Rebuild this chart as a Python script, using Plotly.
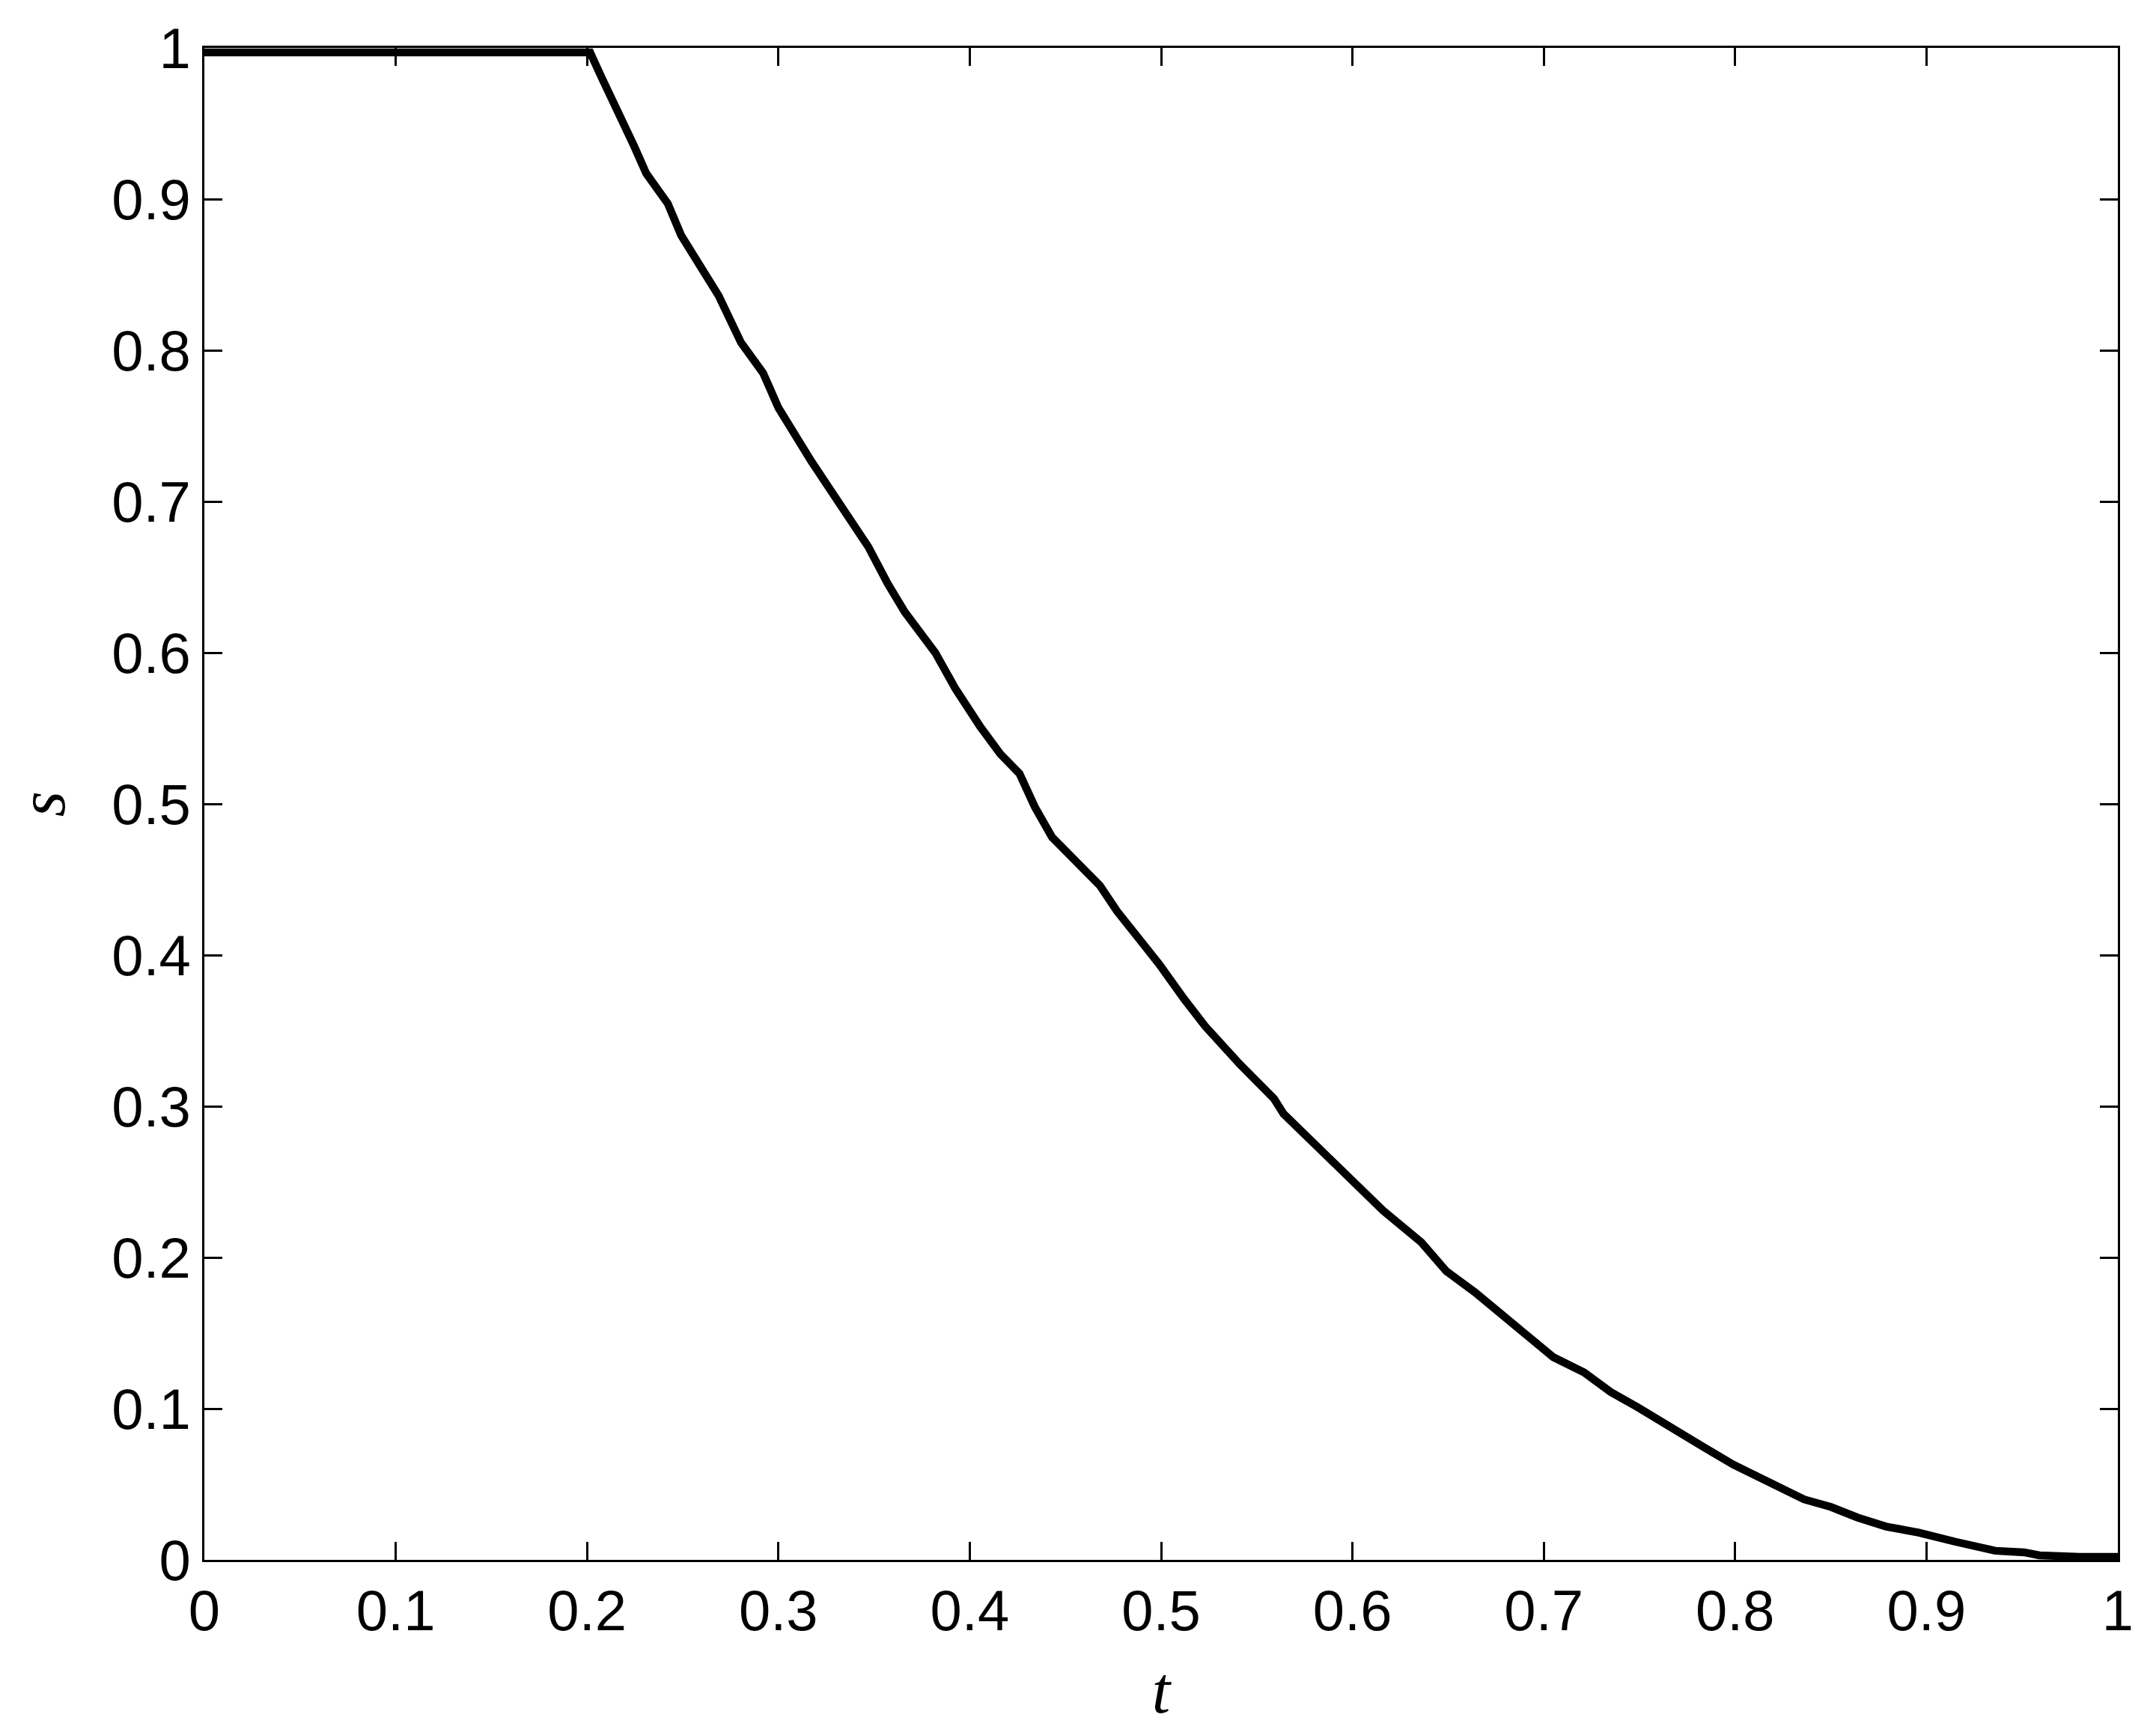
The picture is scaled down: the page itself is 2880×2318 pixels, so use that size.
import plotly.graph_objects as go

# values
t_vals = [0.0, 0.2016, 0.2074, 0.2168, 0.2246, 0.2309, 0.2422, 0.2492, 0.2598, 0.2688,
          0.2805, 0.292, 0.300, 0.308, 0.317, 0.327, 0.338, 0.347, 0.357, 0.366,
          0.382, 0.3926, 0.4055, 0.416, 0.426, 0.434, 0.443, 0.456, 0.468, 0.477,
          0.499, 0.512, 0.523, 0.541, 0.559, 0.564, 0.590, 0.616, 0.636, 0.649,
          0.664, 0.678, 0.688, 0.705, 0.721, 0.735, 0.749, 0.766, 0.783, 0.799,
          0.807, 0.821, 0.836, 0.850, 0.864, 0.879, 0.896, 0.915, 0.936, 0.951,
          0.959, 0.980, 1.0]
s_vals = [0.997, 0.997, 0.981, 0.957, 0.935, 0.917, 0.897, 0.876, 0.853, 0.836,
          0.805, 0.785, 0.762, 0.745, 0.727, 0.708, 0.686, 0.670, 0.646, 0.627,
          0.600, 0.576, 0.551, 0.533, 0.520, 0.498, 0.478, 0.462, 0.446, 0.429,
          0.394, 0.371, 0.353, 0.328, 0.305, 0.295, 0.263, 0.231, 0.210, 0.191,
          0.177, 0.162, 0.152, 0.134, 0.124, 0.111, 0.101, 0.0875, 0.075, 0.063,
          0.058, 0.048, 0.040, 0.035, 0.028, 0.022, 0.018, 0.012, 0.006, 0.005,
          0.003, 0.002, 0.002]

tick_font = dict(family="Liberation Sans, Arial, sans-serif", size=76, color="black")
title_font = dict(family="Liberation Serif, Times New Roman, serif", size=88,
                  color="black", style="italic")

fig = go.Figure()
fig.add_trace(go.Scatter(
    x=t_vals, y=s_vals,
    mode="lines",
    line=dict(color="black", width=10.5),
    showlegend=False,
    hoverinfo="skip",
))

axis_common = dict(
    range=[0, 1],
    tick0=0, dtick=0.1,
    showline=True, linecolor="black", linewidth=3,
    mirror="ticks",
    ticks="inside", ticklen=24, tickwidth=3, tickcolor="black",
    showgrid=False, zeroline=False,
    tickfont=tick_font,
    automargin=False,
)

fig.update_layout(
    width=2880, height=2318,
    paper_bgcolor="white", plot_bgcolor="white",
    margin=dict(l=265, r=59, t=56, b=242),
    xaxis=dict(**axis_common, title=dict(text="t", font=title_font, standoff=34)),
    yaxis=dict(**axis_common, title=dict(text="s", font=title_font, standoff=40)),
)

fig.write_html("out.html")
